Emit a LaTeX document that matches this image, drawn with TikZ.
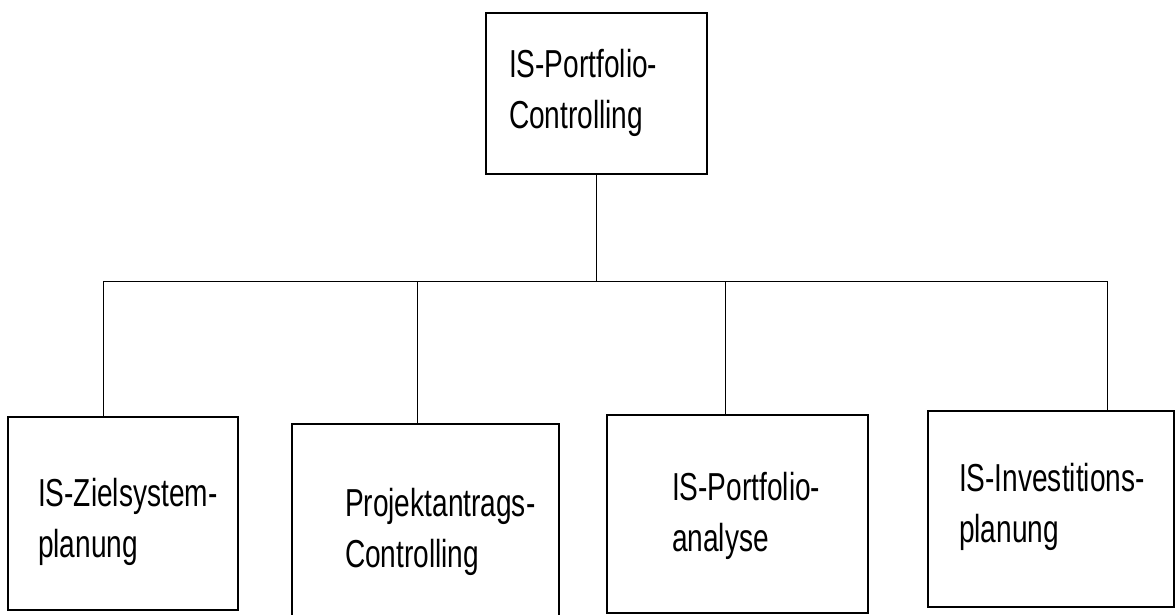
\documentclass[tikz,border=0pt]{standalone}
\usepackage{fontspec}
\setmainfont{Liberation Sans}[FakeStretch=0.72]
\begin{document}
\begin{tikzpicture}[x=1pt,y=-1pt,
  box/.style={draw=black, line width=1.2pt, fill=none, inner sep=0pt, outer sep=0pt},
  label/.style={anchor=north west, inner sep=0pt, outer sep=0pt, align=left,
                font=\fontsize{39}{51}\selectfont},
  link/.style={draw=black, line width=1pt}]
  \useasboundingbox (0,0) rectangle (1175,614);

  % boxes
  \node[box, minimum width=221pt, minimum height=161pt] (top) at (596.5,93.5) {};
  \node[box, minimum width=230pt, minimum height=193pt] (b1) at (123,513.5) {};
  \node[box, minimum width=267pt, minimum height=192pt] (b2) at (425.5,520) {};
  \node[box, minimum width=261pt, minimum height=198pt] (b3) at (737.5,514) {};
  \node[box, minimum width=246pt, minimum height=196pt] (b4) at (1051,509) {};

  % labels
  \node[label] (ttop) at (509,49) {IS-Portfolio-\\Controlling};
  \node[label] (t1) at (38,478) {IS-Zielsystem-\\planung};
  \node[label] (t2) at (345,488) {Projektantrags-\\Controlling};
  \node[label] (t3) at (672,472) {IS-Portfolio-\\analyse};
  \node[label] (t4) at (959,463) {IS-Investitions-\\planung};

  % branching connectors
  \coordinate (j1) at (103,281);
  \coordinate (j2) at (417,281);
  \coordinate (j3) at (725,281);
  \coordinate (j4) at (1107,281);
  \draw[link] (top.south) -- (top.south |- j1);
  \draw[link] (j1) -- (j4);
  \draw[link] (j1) -- (j1 |- b1.north);
  \draw[link] (j2) -- (j2 |- b2.north);
  \draw[link] (j3) -- (j3 |- b3.north);
  \draw[link] (j4) -- (j4 |- b4.north);
\end{tikzpicture}
\end{document}
